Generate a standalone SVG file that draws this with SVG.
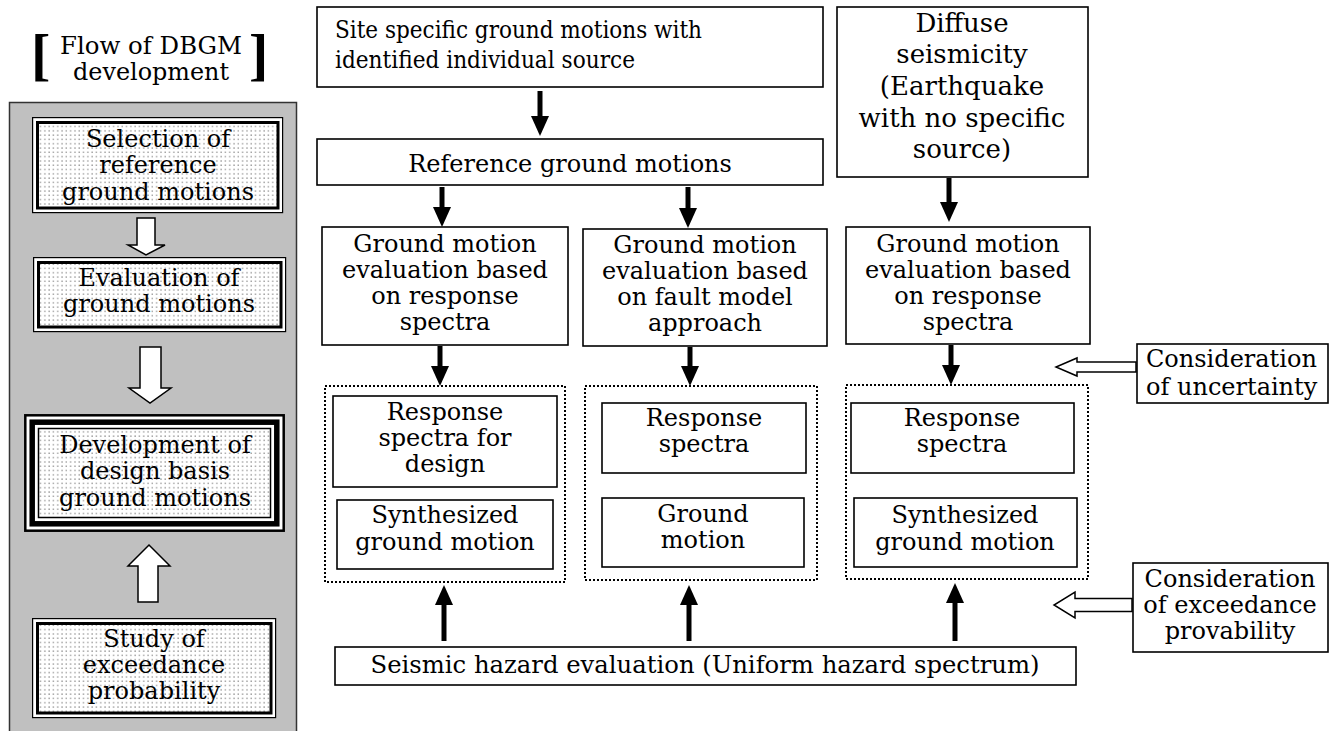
<svg xmlns="http://www.w3.org/2000/svg" width="1341" height="731" viewBox="0 0 1341 731">
<defs>
<pattern id="dots" width="4.3" height="4.3" patternUnits="userSpaceOnUse">
<rect width="4.3" height="4.3" fill="#fff"/>
<rect x="1.2" y="1.2" width="1.3" height="1.3" fill="#8a8a8a"/>
</pattern>
<marker id="ah" viewBox="0 0 20 18" markerUnits="userSpaceOnUse" markerWidth="20" markerHeight="18" refX="2" refY="9" orient="auto">
<path d="M0,0 L20,9 L0,18 Z" fill="#000"/>
</marker>
<style>
text{font-family:"DejaVu Serif","Liberation Serif",serif;font-size:24px;fill:#000}
.c{text-anchor:middle}
.box{fill:#fff;stroke:#000;stroke-width:1.6}
.grp{fill:none;stroke:#000;stroke-width:2;stroke-dasharray:2 2}
.thin{fill:#fff;stroke:#000;stroke-width:1.2}
.thick{fill:url(#dots);stroke:#000;stroke-width:3}
.open{fill:#fff;stroke:#000;stroke-width:1.5}
.arr{stroke:#000;stroke-width:5;fill:none;marker-end:url(#ah)}
.br{font-family:"Liberation Serif",serif;font-weight:bold;font-size:58px}
</style>
</defs>
<rect width="1341" height="731" fill="#fff"/>

<g id="title">
<text class="br" x="31" y="74">[</text>
<text class="br" x="249" y="74">]</text>
<text class="c" x="151" y="54" textLength="182" lengthAdjust="spacingAndGlyphs">Flow of DBGM</text>
<text class="c" x="151" y="80" textLength="156" lengthAdjust="spacingAndGlyphs">development</text>
</g>

<g id="panel">
<rect x="9.5" y="102.5" width="287" height="640" fill="#c0c0c0" stroke="#333" stroke-width="1.5"/>
</g>

<g id="left-arrows">
<path class="open" d="M137,218 H155 V245 H165 L146,255 L128,245 H137 Z"/>
<path class="open" d="M140,347 H161 V388 H171 L150,403 L129,388 H140 Z"/>
<path class="open" d="M138,602 H158 V566 H170 L149,545 L128,566 H138 Z"/>
</g>

<g id="n-selection">
<rect class="thin" x="32.6" y="117.6" width="250" height="95"/>
<rect class="thick" x="37.5" y="122.5" width="240.5" height="85.5"/>
<text class="c" x="158" y="147">Selection of</text>
<text class="c" x="158" y="173">reference</text>
<text class="c" x="158" y="200">ground motions</text>
</g>

<g id="n-evaluation">
<rect class="thin" x="33.6" y="257.6" width="252" height="74"/>
<rect class="thick" x="38.5" y="262.5" width="242.5" height="64.5"/>
<text class="c" x="159" y="286">Evaluation of</text>
<text class="c" x="159" y="312">ground motions</text>
</g>

<g id="n-development">
<rect x="25.3" y="415.3" width="258.4" height="115.4" fill="#fff" stroke="#000" stroke-width="2.5"/>
<rect x="32.2" y="422.2" width="244.6" height="101.6" fill="#fff" stroke="#000" stroke-width="5.5"/>
<rect x="38.5" y="428.5" width="232" height="89" fill="url(#dots)" stroke="#000" stroke-width="1.5"/>
<text class="c" x="155" y="453">Development of</text>
<text class="c" x="155" y="479">design basis</text>
<text class="c" x="155" y="506">ground motions</text>
</g>

<g id="n-study">
<rect class="thin" x="32.6" y="618.6" width="243" height="99"/>
<rect class="thick" x="37.5" y="623.5" width="233.5" height="89.5"/>
<text class="c" x="154" y="647">Study of</text>
<text class="c" x="154" y="673">exceedance</text>
<text class="c" x="154" y="699">probability</text>
</g>

<g id="n-site">
<rect class="box" x="317" y="7" width="506" height="80"/>
<text x="335" y="38" textLength="367" lengthAdjust="spacingAndGlyphs">Site specific ground motions with</text>
<text x="335" y="68" textLength="300" lengthAdjust="spacingAndGlyphs">identified individual source</text>
</g>

<g id="n-reference">
<rect class="box" x="317" y="139" width="506" height="46"/>
<text class="c" x="570" y="172">Reference ground motions</text>
</g>

<g id="n-diffuse">
<rect class="box" x="837" y="7" width="251" height="170"/>
<text class="c" x="962" y="32" style="font-size:26px">Diffuse</text>
<text class="c" x="962" y="63" style="font-size:26px">seismicity</text>
<text class="c" x="962" y="95" style="font-size:26px">(Earthquake</text>
<text class="c" x="962" y="127" style="font-size:26px">with no specific</text>
<text class="c" x="962" y="158" style="font-size:26px">source)</text>
</g>

<g id="n-gm1">
<rect class="box" x="322" y="227" width="246" height="118"/>
<text class="c" x="445" y="252">Ground motion</text>
<text class="c" x="445" y="278">evaluation based</text>
<text class="c" x="445" y="304">on response</text>
<text class="c" x="445" y="330">spectra</text>
</g>

<g id="n-gm2">
<rect class="box" x="583" y="229" width="244" height="117"/>
<text class="c" x="705" y="253">Ground motion</text>
<text class="c" x="705" y="279">evaluation based</text>
<text class="c" x="705" y="305">on fault model</text>
<text class="c" x="705" y="331">approach</text>
</g>

<g id="n-gm3">
<rect class="box" x="846" y="227" width="244" height="117"/>
<text class="c" x="968" y="252">Ground motion</text>
<text class="c" x="968" y="278">evaluation based</text>
<text class="c" x="968" y="304">on response</text>
<text class="c" x="968" y="330">spectra</text>
</g>

<g id="n-group1">
<rect class="grp" x="325" y="386" width="240" height="196"/>
<rect class="box" x="333" y="396" width="224" height="91"/>
<text class="c" x="445" y="420">Response</text>
<text class="c" x="445" y="446">spectra for</text>
<text class="c" x="445" y="472">design</text>
<rect class="box" x="337" y="500" width="216" height="69"/>
<text class="c" x="445" y="523">Synthesized</text>
<text class="c" x="445" y="550">ground motion</text>
</g>

<g id="n-group2">
<rect class="grp" x="585" y="386" width="232" height="194"/>
<rect class="box" x="602" y="403" width="204" height="70"/>
<text class="c" x="704" y="426">Response</text>
<text class="c" x="704" y="452">spectra</text>
<rect class="box" x="602" y="498" width="202" height="69"/>
<text class="c" x="703" y="522">Ground</text>
<text class="c" x="703" y="548">motion</text>
</g>

<g id="n-group3">
<rect class="grp" x="846" y="385" width="242" height="194"/>
<rect class="box" x="851" y="403" width="223" height="70"/>
<text class="c" x="962" y="426">Response</text>
<text class="c" x="962" y="452">spectra</text>
<rect class="box" x="854" y="498" width="223" height="69"/>
<text class="c" x="965" y="523">Synthesized</text>
<text class="c" x="965" y="550">ground motion</text>
</g>

<g id="n-uncertainty">
<rect class="box" x="1137" y="344" width="191" height="59"/>
<text x="1146" y="367">Consideration</text>
<text x="1146" y="395">of uncertainty</text>
</g>

<g id="n-exceedance">
<rect class="box" x="1133" y="563" width="195" height="89"/>
<text class="c" x="1230" y="587">Consideration</text>
<text class="c" x="1230" y="613">of exceedance</text>
<text class="c" x="1230" y="639">provability</text>
</g>

<g id="n-hazard">
<rect class="box" x="335" y="647" width="741" height="38"/>
<text class="c" x="705" y="673" style="font-size:25px" textLength="669" lengthAdjust="spacingAndGlyphs">Seismic hazard evaluation (Uniform hazard spectrum)</text>
</g>

<g id="connectors">
<line class="arr" x1="540" y1="91" x2="540" y2="118"/>
<line class="arr" x1="442" y1="187" x2="442" y2="209"/>
<line class="arr" x1="688" y1="187" x2="688" y2="210"/>
<line class="arr" x1="949" y1="178" x2="949" y2="204"/>
<line class="arr" x1="440" y1="346" x2="440" y2="368"/>
<line class="arr" x1="690" y1="347" x2="690" y2="368"/>
<line class="arr" x1="951" y1="345" x2="951" y2="367"/>
<line class="arr" x1="444" y1="641" x2="444" y2="603"/>
<line class="arr" x1="689" y1="641" x2="689" y2="603"/>
<line class="arr" x1="955" y1="641" x2="955" y2="601"/>
<path class="open" d="M1136,362 H1077 V358 L1056,367 L1077,376 V372 H1136 Z"/>
<path class="open" d="M1132,598.5 H1075 V592 L1054,605 L1075,618 V611.5 H1132 Z"/>
</g>
</svg>
